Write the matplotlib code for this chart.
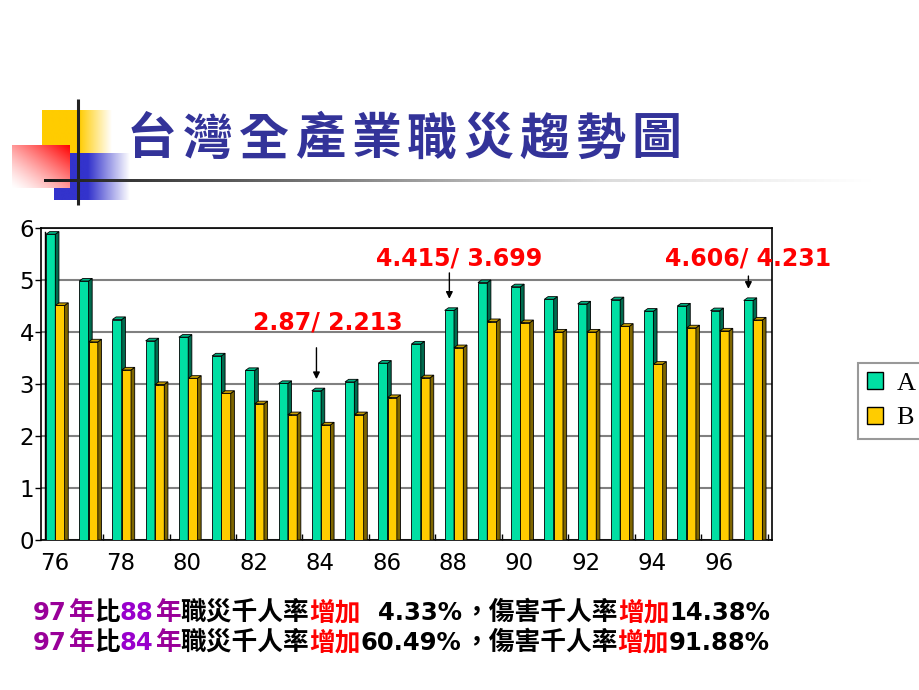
import numpy as np
import matplotlib
matplotlib.use('Agg')
import matplotlib.pyplot as plt
from matplotlib.patches import Polygon, Patch
from matplotlib.font_manager import FontProperties

# ---------------- data ----------------
years = list(range(76, 98))
rate_A = [5.88, 4.98, 4.24, 3.83, 3.90, 3.54, 3.26, 3.01, 2.87, 3.04, 3.40,
          3.77, 4.415, 4.95, 4.87, 4.63, 4.54, 4.62, 4.40, 4.50, 4.41, 4.606]
rate_B = [4.51, 3.81, 3.27, 2.99, 3.11, 2.82, 2.62, 2.41, 2.213, 2.41, 2.74,
          3.12, 3.699, 4.20, 4.18, 4.00, 4.00, 4.11, 3.38, 4.08, 4.02, 4.231]
series_names = ['A', 'B']
xtick_years = years[::2]
yticks = [0, 1, 2, 3, 4, 5, 6]
highlight_years = [84, 88, 97]
highlight_text_pos = [(8.13, 4.19), (12.07, 5.42), (20.79, 5.42)]
arrow_start = [3.75, 5.19, 5.13]

title = '台灣全產業職災趨勢圖'
line1 = [('97', '#990099', 'n'), ('年', '#990099', 'c'), ('比', 'black', 'c'),
         ('88', '#9900CC', 'n'), ('年', '#990099', 'c'), ('職災千人率', 'black', 'c'),
         ('增加', '#FF0000', 'c'), ('  4.33%', 'black', 'n'), ('，傷害千人率', 'black', 'c'),
         ('增加', '#FF0000', 'c'), ('14.38%', 'black', 'n')]
line2 = [('97', '#990099', 'n'), ('年', '#990099', 'c'), ('比', 'black', 'c'),
         ('84', '#9900CC', 'n'), ('年', '#990099', 'c'), ('職災千人率', 'black', 'c'),
         ('增加', '#FF0000', 'c'), ('60.49%', 'black', 'n'), ('，傷害千人率', 'black', 'c'),
         ('增加', '#FF0000', 'c'), ('91.88%', 'black', 'n')]

CJK = ['Noto Sans CJK TC', 'DejaVu Sans']
plt.rcParams['font.family'] = CJK

fig = plt.figure(figsize=(9.2, 6.9), dpi=100)
fig.patch.set_facecolor('white')

# ---------------- decoration overlay (pixel coordinates) ----------------
deco = fig.add_axes([0, 0, 1, 1])
deco.set_zorder(0)
deco.axis('off')

def hgrad(x0, x1, solid_to, rgb, n=200):
    xs = np.linspace(x0, x1, n)
    t = np.clip((xs - solid_to) / (x1 - solid_to), 0, 1)
    col = np.array(rgb)[None, :] * (1 - t[:, None]) + np.ones(3)[None, :] * t[:, None]
    return col[None, :, :]

yellow = (1.0, 0.8, 0.0)
blue = (0.2, 0.2, 0.8)
deco.imshow(hgrad(42, 112, 79, yellow), extent=[42, 112, 153, 110], aspect='auto', zorder=1)
deco.imshow(hgrad(54, 130, 88, blue), extent=[54, 130, 200, 153], aspect='auto', zorder=1)
# red square with diagonal gradient
nx, ny = 120, 90
gx = np.linspace(0, 1, nx)[None, :]
gy = np.linspace(0, 1, ny)[:, None]
t = np.clip((gx + (1 - gy)) / 2, 0, 1) ** 1.3
red = np.zeros((ny, nx, 3))
red[..., 0] = 1.0
red[..., 1] = 1 - t
red[..., 2] = 1 - t
deco.imshow(red, extent=[12, 70, 188, 145], aspect='auto', zorder=2)
# vertical line
deco.plot([78, 78], [99, 205], color='#222222', lw=2.2, zorder=3, solid_capstyle='butt')
# horizontal gradient line
xs = np.linspace(44, 880, 400)
lvl = np.interp(xs, [44, 300, 460, 600, 870, 880], [0.1, 0.45, 0.68, 0.86, 1.0, 1.0])
hl = np.repeat(lvl[None, :, None], 3, axis=2)
deco.imshow(hl, extent=[44, 880, 182.5, 179.5], aspect='auto', zorder=3)
deco.set_xlim(0, 920)
deco.set_ylim(690, 0)

# title, one character at a time with wide spacing
for k, ch in enumerate(title):
    deco.text(152 + 56 * k, 140, ch, color='#333399', fontsize=36, weight='bold',
              family=CJK, ha='center', va='center', zorder=4)

# ---------------- main chart ----------------
ax = fig.add_axes([41 / 920, 150 / 690, 731 / 920, 312 / 690])
ax.set_zorder(1)
n = len(years)
idx = np.arange(n)
w, dx, dy = 0.28, 0.11, 0.05
styles = [
    dict(face='#00DFA3', side='#006B4E', top='#00B383', off=-0.35),
    dict(face='#FFCC00', side='#7F6600', top='#C9A000', off=-0.07),
]
for vals, st in zip([rate_A, rate_B], styles):
    lefts = idx + st['off']
    ax.bar(lefts, vals, width=w, align='edge', color=st['face'], edgecolor='black',
           linewidth=0.6, zorder=3)
    for x0, v in zip(lefts, vals):
        x1 = x0 + w
        ax.add_patch(Polygon([(x1, 0), (x1 + dx, 0), (x1 + dx, v + dy), (x1, v)],
                             closed=True, facecolor=st['side'], edgecolor='black',
                             linewidth=0.6, zorder=3))
        ax.add_patch(Polygon([(x0, v), (x1, v), (x1 + dx, v + dy), (x0 + dx, v + dy)],
                             closed=True, facecolor=st['top'], edgecolor='black',
                             linewidth=0.6, zorder=3))

ax.set_xlim(-0.5, n - 0.5)
ax.set_ylim(0, 6)
ax.set_yticks(yticks)
ax.set_yticklabels([str(v) for v in yticks], family=['DejaVu Sans'], fontsize=16.5)
ax.set_xticks([years.index(y) - 0.1 for y in xtick_years])
ax.set_xticklabels([str(y) for y in xtick_years], family=['DejaVu Sans'], fontsize=16.5)
ax.set_xticks(np.arange(1.37, n, 2), minor=True)
ax.tick_params(axis='x', which='major', length=0, pad=9)
ax.tick_params(axis='x', which='minor', length=4, direction='in', width=1)
ax.tick_params(axis='y', length=4, direction='out', width=1, pad=1)
ax.grid(axis='y', color='#808080', lw=1.5, zorder=1)
ax.set_axisbelow(True)
for sp in ax.spines.values():
    sp.set_color('black')
    sp.set_linewidth(1.2)
# back wall inner edge
ax.plot([-0.38, -0.38], [0, 5.92], color='black', lw=1, zorder=2)

# annotations
for yr, (tx, ty), ys in zip(highlight_years, highlight_text_pos, arrow_start):
    i = years.index(yr)
    a, b = rate_A[i], rate_B[i]
    ax.text(tx, ty, f'{a}/ {b}', color='#FF0000', fontsize=17, weight='bold',
            family=['DejaVu Sans'], ha='center', va='center', clip_on=False, zorder=5)
    ax.annotate('', xy=(i - 0.21, a + 0.17), xytext=(i - 0.21, ys),
                arrowprops=dict(arrowstyle='-|>', color='black', lw=1, mutation_scale=10),
                zorder=5)

# legend
handles = [Patch(facecolor=styles[0]['face'], edgecolor='black', linewidth=1),
           Patch(facecolor=styles[1]['face'], edgecolor='black', linewidth=1)]
leg = fig.legend(handles, series_names, loc='upper left',
                 bbox_to_anchor=(858 / 920, 1 - 363 / 690), frameon=True, fancybox=False,
                 prop=FontProperties(family='Liberation Serif', size=19),
                 handlelength=0.6, handleheight=0.6, borderpad=0.35, labelspacing=0.45,
                 handletextpad=0.5, borderaxespad=0)
leg.get_frame().set_edgecolor('#808080')
leg.get_frame().set_linewidth(1.5)

# ---------------- bottom text lines ----------------
renderer = fig.canvas.get_renderer()

def draw_line(segments, x, y):
    for txt, color, kind in segments:
        if kind == 'n':
            props = dict(family=['DejaVu Sans'], weight='bold', size=17.5)
            pad = 1.5
        else:
            props = dict(family=CJK, weight='bold', size=18.5)
            pad = 0
        tt = deco.text(x, y, txt, color=color, ha='left', va='baseline', zorder=4, **props)
        bb = tt.get_window_extent(renderer)
        x += bb.width + pad

draw_line(line1, 33, 620)
draw_line(line2, 33, 650)

fig.savefig('out.png', dpi=100)
